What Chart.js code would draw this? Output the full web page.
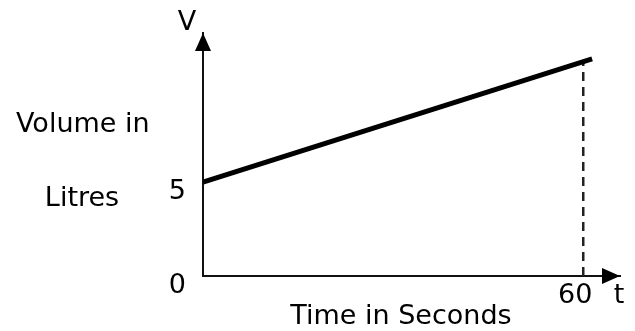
<!DOCTYPE html>
<html lang="en">
<head>
    <meta charset="UTF-8">
    <title>Volume in Litres</title>
    <script src="https://cdn.jsdelivr.net/npm/chart.js"></script>
    <style>
        body {
            margin: 0;
            padding: 0;
            background: #fff;
        }

        .chart-box {
            width: 635px;
            height: 331px;
        }
    </style>
</head>
<body>
    <div class="chart-box">
        <canvas id="volumeChart" width="635" height="331"></canvas>
    </div>

    <script>
        // values
        const timeValues = [0, 61.4];
        const volumeValues = [5, 11.55];
        const markerTime = [60, 60];
        const markerVolume = [0, 11.4];
        const xTickLabels = [60];
        const yTickLabels = [0, 5];

        const textFont = '27px "DejaVu Sans", sans-serif';

        // arrows and axis captions
        const axisDecor = {
            id: 'axisDecor',
            afterDraw(chart) {
                const ctx = chart.ctx;
                const area = chart.chartArea;
                ctx.save();
                ctx.fillStyle = '#000';

                // arrow on the V axis
                ctx.beginPath();
                ctx.moveTo(area.left, area.top);
                ctx.lineTo(area.left - 8, area.top + 18);
                ctx.lineTo(area.left + 8, area.top + 18);
                ctx.closePath();
                ctx.fill();

                // arrow on the t axis
                ctx.beginPath();
                ctx.moveTo(area.right, area.bottom);
                ctx.lineTo(area.right - 18, area.bottom - 8);
                ctx.lineTo(area.right - 18, area.bottom + 8);
                ctx.closePath();
                ctx.fill();

                ctx.font = textFont;
                ctx.textBaseline = 'middle';
                ctx.textAlign = 'center';
                ctx.fillText('V', area.left - 16, 23);
                ctx.fillText('t', area.right - 1, 296);
                ctx.fillText('Litres', 82, 199);
                ctx.fillText('Time in Seconds', 401, 317);
                ctx.textAlign = 'left';
                ctx.fillText('Volume in', 16, 125);
                ctx.restore();
            }
        };

        const ctx = document.getElementById('volumeChart').getContext('2d');
        new Chart(ctx, {
            type: 'line',
            data: {
                datasets: [{
                    data: timeValues.map((t, i) => ({ x: t, y: volumeValues[i] })),
                    borderColor: '#000',
                    borderWidth: 5,
                    pointRadius: 0,
                    tension: 0
                }, {
                    data: markerTime.map((t, i) => ({ x: t, y: markerVolume[i] })),
                    borderColor: '#222',
                    borderWidth: 2.5,
                    borderDash: [9, 6],
                    pointRadius: 0
                }]
            },
            options: {
                responsive: false,
                animation: false,
                layout: {
                    padding: { top: 33, right: 15, left: 0, bottom: 0 }
                },
                plugins: {
                    legend: { display: false },
                    tooltip: { enabled: false }
                },
                scales: {
                    x: {
                        type: 'linear',
                        min: 0,
                        max: 65.8,
                        grid: { display: false },
                        border: { display: true, color: '#111', width: 2 },
                        afterBuildTicks: scale => {
                            scale.ticks = xTickLabels.map(v => ({ value: v }));
                        },
                        afterFit: scale => { scale.height = 55; },
                        ticks: {
                            color: '#000',
                            font: { family: 'DejaVu Sans', size: 27 },
                            padding: -4,
                            labelOffset: -8,
                            maxRotation: 0
                        }
                    },
                    y: {
                        type: 'linear',
                        min: 0,
                        max: 12.93,
                        grid: { display: false },
                        border: { display: true, color: '#111', width: 2 },
                        afterBuildTicks: scale => {
                            scale.ticks = yTickLabels.map(v => ({ value: v }));
                        },
                        afterFit: scale => { scale.width = 203; },
                        ticks: {
                            color: '#000',
                            font: { family: 'DejaVu Sans', size: 27 },
                            padding: 9,
                            labelOffset: 10
                        }
                    }
                }
            },
            plugins: [axisDecor]
        });
    </script>
</body>
</html>
